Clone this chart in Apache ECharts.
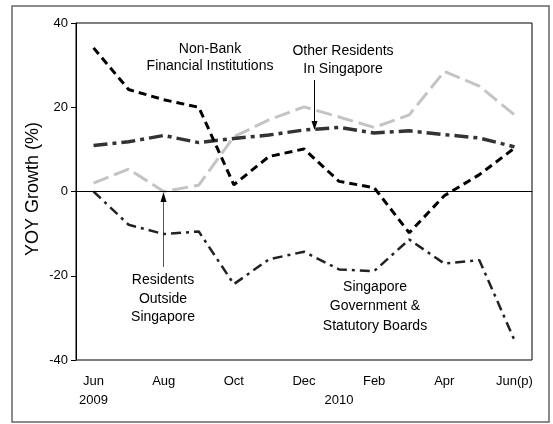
<!DOCTYPE html>
<html><head><meta charset="utf-8">
<script src="https://cdn.jsdelivr.net/npm/echarts@6/dist/echarts.min.js"></script>
<style>html,body{margin:0;padding:0;background:#fff}#c{width:553px;height:424px}</style>
</head><body><div id="c"></div>
<script>
var categories = ['Jun','Jul','Aug','Sep','Oct','Nov','Dec','Jan','Feb','Mar','Apr','May','Jun(p)'];
var tickLabels = {0:'Jun\n2009',2:'Aug',4:'Oct',6:'Dec',7:'\n2010',8:'Feb',10:'Apr',12:'Jun(p)'};
var nonBank = [34.1, 24.2, 21.8, 20.0, 1.6, 8.3, 10.1, 2.4, 0.9, -9.8, -1.0, 4.0, 10.3];
var otherResidents = [10.9, 11.8, 13.3, 11.6, 12.6, 13.4, 14.6, 15.2, 13.9, 14.4, 13.5, 12.7, 10.6];
var residentsOutside = [2.0, 5.3, 0.0, 1.5, 13.0, 17.0, 20.1, 17.7, 15.2, 18.2, 28.5, 25.0, 18.2];
var govt = [0.0, -7.9, -10.1, -9.5, -22.0, -16.1, -14.3, -18.5, -18.9, -11.4, -17.1, -16.3, -35.3];
var yTicks = [-40, -20, 0, 20, 40];
var yAxisTitle = 'YOY Growth (%)';

var chart = echarts.init(document.getElementById('c'), null, {renderer:'canvas'});
var FONT = 'Liberation Sans, Arial, sans-serif';
function txt(x, y, s, lh){
  return {type:'text', x:x, y:y, style:{text:s, fill:'#000', font:'14px ' + FONT, textAlign:'center', textVerticalAlign:'top', lineHeight:lh}};
}
chart.setOption({
  animation:false,
  grid:{left:76, right:21, top:23, bottom:64, show:true, borderColor:'#000', borderWidth:1, backgroundColor:'transparent'},
  xAxis:[{
    type:'category', data:categories, boundaryGap:true,
    axisLine:{lineStyle:{color:'#000', width:1}},
    axisTick:{alignWithLabel:true, interval:0, length:4, lineStyle:{color:'#000'}},
    axisLabel:{interval:0, color:'#000', fontFamily:FONT, fontSize:13, lineHeight:19, margin:12,
      formatter:function(v, i){ return tickLabels[i] !== undefined ? tickLabels[i] : ''; }}
  },{
    type:'category', data:categories, boundaryGap:true, position:'bottom',
    axisLine:{show:false},
    axisTick:{alignWithLabel:true, interval:0, inside:true, length:4, lineStyle:{color:'#000'}},
    axisLabel:{show:false}
  }],
  yAxis:{
    type:'value', min:yTicks[0], max:yTicks[yTicks.length-1], interval:20,
    axisLine:{show:true, lineStyle:{color:'#000'}},
    axisTick:{show:true, length:5, lineStyle:{color:'#000'}},
    axisLabel:{color:'#000', fontFamily:FONT, fontSize:13, margin:8},
    splitLine:{show:false}
  },
  series:[
    {name:'Residents Outside Singapore', type:'line', data:residentsOutside, symbol:'none',
     lineStyle:{color:'#c4c4c4', width:3, type:[16,6]}, z:2,
     markLine:{silent:true, symbol:'none', label:{show:false}, lineStyle:{color:'#000', width:1, type:'solid'}, data:[{yAxis:0}]}},
    {name:'Other Residents In Singapore', type:'line', data:otherResidents, symbol:'none',
     lineStyle:{color:'#333', width:3.5, type:[14,5,4,5]}, z:3},
    {name:'Non-Bank Financial Institutions', type:'line', data:nonBank, symbol:'none',
     lineStyle:{color:'#000', width:3, type:[8,5]}, z:4},
    {name:'Singapore Government & Statutory Boards', type:'line', data:govt, symbol:'none',
     lineStyle:{color:'#222', width:2.5, type:[10,5,3,5]}, z:3}
  ],
  graphic:[
    {type:'rect', shape:{x:12, y:6, width:537, height:416}, style:{fill:'none', stroke:'#666', lineWidth:1.5}, silent:true},
    {type:'text', x:33, y:189, rotation:Math.PI/2,
     style:{text:yAxisTitle, fill:'#000', font:'18px ' + FONT, textAlign:'center', textVerticalAlign:'middle'}},
    txt(210, 41, 'Non-Bank\nFinancial Institutions', 17),
    txt(343, 42, 'Other Residents\nIn Singapore', 18),
    txt(163, 271, 'Residents\nOutside\nSingapore', 18.5),
    txt(375, 277, 'Singapore\nGovernment &\nStatutory Boards', 19.5),
    {type:'line', shape:{x1:314.5, y1:80, x2:314.5, y2:122}, style:{stroke:'#000', lineWidth:1}},
    {type:'polygon', shape:{points:[[314.5,130],[311.5,121],[317.5,121]]}, style:{fill:'#000'}},
    {type:'line', shape:{x1:163.5, y1:267, x2:163.5, y2:201}, style:{stroke:'#555', lineWidth:1}},
    {type:'polygon', shape:{points:[[163.5,192],[160.5,202],[166.5,202]]}, style:{fill:'#000'}}
  ]
});
</script></body></html>
